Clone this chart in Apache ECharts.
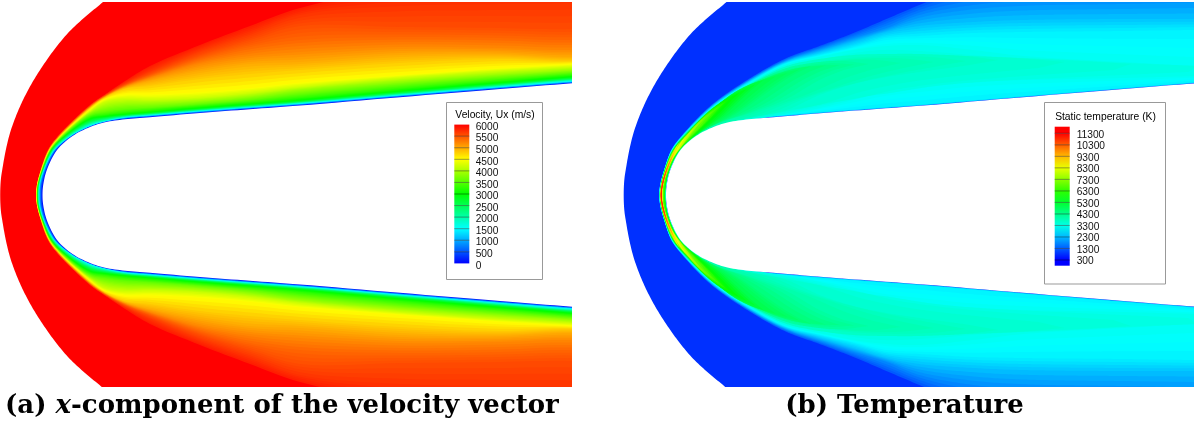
<!DOCTYPE html>
<html><head><meta charset="utf-8">
<script src="https://cdn.jsdelivr.net/npm/echarts@6/dist/echarts.min.js"></script>
<style>html,body{margin:0;padding:0;background:#fff}#c{width:1194px;height:423px}</style>
</head><body><div id="c"></div>
<script>
// Field outlines: y of the symmetry line = 195
const shockOutline=[[0.2,195],[0.8,180],[2.7,167],[5.8,150],[10,133],[16,116],[23,100],[32,83],[42,67],[54,50],[68,33],[85,17],[103,2],[125,-18],[640,-40]];
const cutY=[195,185,170,150,136];
const cutX=[90,105,125,150,200,250,300,400,500,572];
const bodyRow=[42.5,43.2,46.8,57,72.5,127,122.3,119.3,117.2,113,109.2,105.5,97.2,89,83.3];
// velocity iso-contours: x at each cutY, then y at each cutX
const u5850=[36,36.8,40.7,48,58,105,94.5,81,66,45,26,8,-12,-20,-25];
const u5700=[36.1,36.9,40.8,48.2,58.3,105.5,95,83,71,50,33,15,6,4,3];
const u5550=[36.15,36.95,40.9,48.4,58.6,106,95.5,84.5,74,55,40,26,27,28,29];
const u5400=[36.2,37,41,48.6,58.9,106.5,96,85.5,76,59,47,40,37,38,40];
const u5200=[36.3,37.1,41.1,48.8,59.3,107,96.5,86.5,78,64,56,52,47,48,50];
const u5000=[36.4,37.2,41.2,49,59.7,107.5,97,87.5,81,71,64,62,55,54,57];
const u4800=[36.5,37.3,41.3,49.2,60.1,108,97.5,89,86,79,74,70,63,59,61];
const u4500=[36.6,37.4,41.5,49.5,60.6,109.5,99,94.5,94.5,92,88,82.5,75,68,64];
const u4200=[36.8,37.6,41.7,49.8,61.3,111.5,102,99,99.5,97.5,93,87,78,71,67];
const u3900=[36.95,37.7,41.9,50.2,62,113,107,104,103.5,101,96.5,90,81.5,74.5,70];
const u3600=[37.1,37.9,42.2,50.6,62.8,115,111.5,109,107.5,104,99.7,94,85,77.5,72.5];
const u3300=[37.3,38.1,42.4,51,63.8,117,114.5,112,110,106,102,97.5,88.5,80.3,74.7];
const u3000=[37.5,38.3,42.7,51.5,65,119,116.5,114.3,112.2,108,104.2,100.2,91.2,82.7,76.8];
const u2500=[38,38.8,43.2,52.5,67,122,118.5,115.8,113.7,109.5,105.7,101.9,93.2,84.8,78.9];
const u2000=[38.6,39.3,43.6,53.5,69,124,120.2,116.7,114.6,110.4,106.6,102.8,94.3,85.9,80];
const u1500=[39.2,39.8,44,54.3,71,126,121.5,117.5,115.4,111.2,107.4,103.7,95.3,87,81.3];
const u1000=[39.9,40.4,44.7,55,71.7,126.5,121.9,118.2,116.1,111.9,108.1,104.4,96,87.8,82.1];
const u500=[41,41.5,45.7,56,72.2,126.8,122.1,118.8,116.7,112.5,108.7,105,96.7,88.5,82.8];
const velocityLevels=[5850,5700,5550,5400,5200,5000,4800,4500,4200,3900,3600,3300,3000,2500,2000,1500,1000,500,0];
const velocityRows=[u5850,u5700,u5550,u5400,u5200,u5000,u4800,u4500,u4200,u3900,u3600,u3300,u3000,u2500,u2000,u1500,u1000,u500,bodyRow];
// temperature iso-contours: each is a ribbon with an outer and an inner edge
const t1200o=[[35.6,195],[36.6,185],[40.6,170],[47.8,150],[58,136],[88,105],[130,76],[163,58],[196,46],[230,33],[263,19],[296,5],[330,-8],[420,-30],[640,-40]];
const t1200i=[[42.2,195],[42.9,185],[46.5,170],[56.7,150],[72.2,136],[90,126.6],[105,121.9],[125,118.9],[150,116.8],[200,112.6],[250,108.8],[300,105.1],[400,96.8],[500,88.6],[572,83],[640,78]];
const t1800o=[[35.7,195],[36.7,185],[40.7,170],[48,150],[58.4,136],[88.5,105.5],[130,77.5],[163,60],[196,49],[230,38],[263,28],[296,15],[350,5],[400,1],[500,-1],[572,-3],[640,-5]];
const t1800i=[[42.1,195],[42.8,185],[46.4,170],[56.6,150],[72,136],[90,126.5],[105,121.8],[125,118.8],[150,116.7],[200,112.5],[250,108.7],[300,105],[400,96.7],[500,88.5],[572,82.8],[640,78]];
const t2400o=[[35.8,195],[36.8,185],[40.8,170],[48.2,150],[58.8,136],[89,106],[130,78.5],[163,61.5],[196,52],[230,42],[263,32],[296,26],[350,22],[400,20],[500,19],[572,19],[640,19]];
const t2400i=[[42,195],[42.7,185],[46.3,170],[56.5,150],[71.8,136],[90,126.3],[105,121.5],[125,118.6],[150,116.4],[200,112.2],[250,108.4],[300,104.7],[400,96.4],[500,88.2],[572,82.5],[640,77]];
const t2900o=[[36,195],[37,185],[40.9,170],[48.4,150],[59.2,136],[89.5,106.5],[130,80],[163,63],[196,55],[230,47],[263,38],[296,36],[350,33],[400,32],[500,31],[572,30],[640,30]];
const t2900i=[[41.9,195],[42.6,185],[46.2,170],[56.4,150],[71.6,136],[90,126],[105,121.2],[125,118.2],[150,116],[200,111.8],[250,108],[300,104.3],[400,96],[500,87.8],[572,82.1],[640,77]];
const t3200o=[[36.1,195],[37.1,185],[41,170],[48.6,150],[59.5,136],[90,107],[130,81],[163,64.5],[196,57],[230,50],[263,46],[296,45],[350,50],[400,56],[500,62],[572,66],[640,68]];
const t3200i=[[41.8,195],[42.5,185],[46.1,170],[56.3,150],[71.4,136],[90,125.7],[105,120.9],[130,117.8],[163,114],[196,108],[230,100],[263,92],[296,88],[350,82],[400,80],[500,78],[572,76],[640,74]];
const t3600o=[[36.2,195],[37.2,185],[41.1,170],[48.8,150],[59.8,136],[90,107.5],[130,82],[163,66],[196,59],[230,55],[263,54],[296,54],[340,56],[375,60]];
const t3600i=[[41.7,195],[42.4,185],[46,170],[56.2,150],[71.2,136],[90,125.4],[105,120.5],[130,117],[163,110],[196,95],[230,84],[263,77],[296,72],[340,66]];
const t4000o=[[36.3,195],[37.3,185],[41.2,170],[49,150],[60.1,136],[90,108],[130,83],[163,68],[196,62],[220,61],[245,64]];
const t4000i=[[41.6,195],[42.3,185],[45.9,170],[56,150],[71,136],[90,125],[105,119.8],[130,112],[163,99],[196,80],[220,70]];
const t4500o=[[36.4,195],[37.4,185],[41.3,170],[49.2,150],[60.5,136],[90,108.5],[110,93],[130,84],[150,75],[170,69],[188,66]];
const t4500i=[[41.5,195],[42.2,185],[45.8,170],[55.8,150],[70.8,136],[90,124],[105,118],[122,108],[140,95],[160,81],[175,72]];
const t5000o=[[36.5,195],[37.5,185],[41.4,170],[49.4,150],[60.9,136],[90,109],[110,93],[125,85],[140,80]];
const t5000i=[[41.4,195],[42.1,185],[45.7,170],[55.6,150],[70.5,136],[85,126],[100,116],[115,102],[128,90]];
const t5800o=[[36.6,195],[37.6,185],[41.6,170],[49.7,150],[61.5,136],[78,118],[92,106],[108,97]];
const t5800i=[[41.3,195],[42,185],[45.6,170],[55.3,150],[70,136],[82,124],[94,112],[103,102]];
const t7000o=[[36.8,195],[37.8,185],[41.9,170],[50.2,150],[63,136],[72,125],[84,115]];
const t7000i=[[39.3,195],[40,185],[44.5,170],[53.3,150],[66.5,136],[74,126]];
const t8550o=[[37,195],[38,185],[42.3,170],[50.9,150],[56,142]];
const t8550i=[[38.7,195],[39.4,185],[43.8,170],[52.2,150]];
const t10000o=[[37.2,195],[38.2,185],[42.6,170],[45.5,163]];
const t10000i=[[38.3,195],[39,185],[43.2,170]];
const t11000o=[[37.4,195],[38.2,188],[39.5,179]];
const t11000i=[[38,195],[38.7,187]];
const temperatureLevels=[1200,1800,2400,2900,3200,3600,4000,4500,5000,5800,7000,8550,10000,11000];
const temperatureOuter=[t1200o,t1800o,t2400o,t2900o,t3200o,t3600o,t4000o,t4500o,t5000o,t5800o,t7000o,t8550o,t10000o,t11000o];
const temperatureInner=[t1200i,t1800i,t2400i,t2900i,t3200i,t3600i,t4000i,t4500i,t5000i,t5800i,t7000i,t8550i,t10000i,t11000i];
const freestreamU=6000, freestreamT=820;
// legends
const velocityTicks=[0,500,1000,1500,2000,2500,3000,3500,4000,4500,5000,5500,6000];
const temperatureTicks=[300,1300,2300,3300,4300,5300,6300,7300,8300,9300,10300,11300];
const temperatureBarEnds=[-196,11874];
const velocityTitle='Velocity, Ux (m/s)';
const temperatureTitle='Static temperature (K)';

const STOPS=[[0,[0,0,255]],[.25,[0,255,255]],[.5,[0,255,0]],[.75,[255,255,0]],[1,[255,0,0]]];
function cmap(v,lo,hi){
  let t=Math.max(0,Math.min(1,(v-lo)/(hi-lo)));
  for(let i=1;i<STOPS.length;i++){ if(t<=STOPS[i][0]){
    const a=STOPS[i-1],b=STOPS[i],f=(t-a[0])/(b[0]-a[0]);
    return 'rgb('+a[1].map((c,k)=>Math.round(c+(b[1][k]-c)*f)).join(',')+')';
  }}
  return 'rgb(255,0,0)';
}
const uCol=v=>cmap(v,0,6000), tCol=v=>cmap(v,300,11300);
const CY=195;
const mir=pts=>pts.map(p=>[p[0],2*CY-p[1]]);
function rowCurve(r){
  const a=cutY.map((y,i)=>[r[i],y]);
  const b=cutX.map((x,i)=>[x,r[i+cutY.length]]);
  const last=b[b.length-1];
  return a.concat(b,[[640,last[1]-5]]);
}
// centripetal Catmull-Rom drawing of a half outline; the ghost point mirrors across the symmetry line
function spline(pts,sub){
  const P=[[pts[1][0],2*CY-pts[1][1]]].concat(pts);
  const n=pts.length-1;P.push([2*pts[n][0]-pts[n-1][0],2*pts[n][1]-pts[n-1][1]]);
  const out=[pts[0].slice()];
  const tj=(a,b)=>Math.max(1e-3,Math.sqrt(Math.hypot(b[0]-a[0],b[1]-a[1])));
  const L=(a,b,t0,t1,t)=>[a[0]+(b[0]-a[0])*(t-t0)/(t1-t0),a[1]+(b[1]-a[1])*(t-t0)/(t1-t0)];
  for(let i=1;i<P.length-2;i++){
    const p0=P[i-1],p1=P[i],p2=P[i+1],p3=P[i+2];
    const t0=0,t1=t0+tj(p0,p1),t2=t1+tj(p1,p2),t3=t2+tj(p2,p3);
    for(let s=1;s<=sub;s++){
      const t=t1+(t2-t1)*s/sub;
      const A1=L(p0,p1,t0,t1,t),A2=L(p1,p2,t1,t2,t),A3=L(p2,p3,t2,t3,t);
      const B1=L(A1,A2,t0,t2,t),B2=L(A2,A3,t1,t3,t);
      out.push(L(B1,B2,t1,t2,t));
    }
  }
  return out;
}
function resample(c,N){
  const d=[0];for(let i=1;i<c.length;i++)d.push(d[i-1]+Math.hypot(c[i][0]-c[i-1][0],c[i][1]-c[i-1][1]));
  const tot=d[d.length-1],o=[];let j=0;
  for(let k=0;k<=N;k++){const s=tot*k/N;while(j<c.length-2&&d[j+1]<s)j++;
    const f=(s-d[j])/Math.max(1e-6,d[j+1]-d[j]);
    o.push([c[j][0]+(c[j+1][0]-c[j][0])*f,c[j][1]+(c[j+1][1]-c[j][1])*f]);}
  return o;
}
const lerpPts=(a,b,f)=>a.map((p,i)=>[p[0]+(b[i][0]-p[0])*f,p[1]+(b[i][1]-p[1])*f]);
function closed(curve){ return mir(curve.slice(1)).reverse().concat(curve); }
function ribbon(o,i){
  return mir(o.slice(1)).reverse().concat(o, i.slice(1).reverse(), [i[0]], mir(i.slice(1)));
}
const bodyPoly=closed(spline(rowCurve(bodyRow),8));
const shockPoly=closed(spline(shockOutline,10));

const TWEEN=4;
const layersA=[{p:shockPoly,c:uCol(freestreamU)}];
velocityRows.forEach((row,k)=>{
  if(k===velocityRows.length-1) return;
  const nxt=velocityRows[k+1];
  for(let j=0;j<TWEEN;j++){
    const f=j/TWEEN;
    const r=row.map((v,i)=>v+(nxt[i]-v)*f);
    const val=velocityLevels[k]+(velocityLevels[k+1]-velocityLevels[k])*(j+.5)/TWEEN;
    layersA.push({p:closed(spline(rowCurve(r),8)),c:uCol(val)});
  }
});
layersA.push({p:bodyPoly,c:'#fff'});

const N=260;
const denseO=temperatureOuter.map(c=>resample(spline(c,8),N));
const denseI=temperatureInner.map(c=>resample(spline(c,8),N));
const layersB=[{p:shockPoly,c:tCol(freestreamT)}];
temperatureLevels.forEach((L,k)=>{
  const last=k===temperatureLevels.length-1;
  const steps=last?1:TWEEN;
  const nxtL=last?11300:temperatureLevels[k+1];
  for(let j=0;j<steps;j++){
    const f=j/steps;
    const o=last?denseO[k]:lerpPts(denseO[k],denseO[k+1],f);
    const i=last?denseI[k]:lerpPts(denseI[k],denseI[k+1],f);
    layersB.push({p:ribbon(o,i),c:tCol(L+(nxtL-L)*(j+.5)/steps)});
  }
});
layersB.push({p:bodyPoly,c:'#fff'});

function fieldSeries(idx,layers){
  return {type:'custom',xAxisIndex:idx,yAxisIndex:idx,coordinateSystem:'cartesian2d',silent:true,clip:true,z:1,
    data:layers.map((l,i)=>[i]),encode:{x:[],y:[]},animation:false,
    renderItem(params,api){
      const l=layers[params.dataIndex];
      return {type:'polygon',shape:{points:l.p.map(q=>api.coord(q))},style:{fill:l.c}};
    }};
}
function legendSeries(idx,edges,col){
  const data=edges.slice(0,-1).map((v,i)=>[v,edges[i+1]]);
  return {type:'custom',xAxisIndex:idx,yAxisIndex:idx,coordinateSystem:'cartesian2d',silent:true,animation:false,z:5,
    data,encode:{x:[],y:[0,1]},
    renderItem(params,api){
      const v0=api.value(0),v1=api.value(1);
      const a=api.coord([0,v0]),b=api.coord([1,v1]);
      const fill=new echarts.graphic.LinearGradient(0,0,0,1,[{offset:0,color:col(v1)},{offset:1,color:col(v0)}]);
      const kids=[{type:'rect',shape:{x:a[0],y:b[1],width:b[0]-a[0],height:a[1]-b[1]},style:{fill}}];
      if(params.dataIndex>0) kids.push({type:'line',shape:{x1:a[0],y1:a[1],x2:b[0],y2:a[1]},style:{stroke:'rgba(0,0,0,.4)',lineWidth:1}});
      return {type:'group',children:kids};
    }};
}
const hiddenX=(i,min,max)=>({gridIndex:i,type:'value',min,max,show:false});
const hiddenY=(i)=>({gridIndex:i,type:'value',min:2,max:387,inverse:true,show:false});
const barY=(i,min,max)=>({gridIndex:i,type:'value',min,max,show:false});
const labelY=(i,min,max,ticks,margin)=>({gridIndex:i,type:'value',position:'right',min,max,z:10,
  axisLine:{show:false},axisTick:{show:false},splitLine:{show:false},
  axisLabel:{customValues:ticks,margin,fontFamily:'Liberation Sans',fontSize:10.2,color:'#111',
    formatter:v=>String(v),showMinLabel:true,showMaxLabel:true}});
const capFont={fontFamily:'DejaVu Serif',fontWeight:'bold',fontSize:26,color:'#000'};
const legendTitleFont={fontFamily:'Liberation Sans',fontSize:10.3,fontWeight:'normal',color:'#000'};
const option={
  animation:false,backgroundColor:'#fff',
  grid:[{left:0,top:2,width:572,height:385},{left:622,top:2,width:572,height:385},
        {left:454.3,top:124.6,width:15,height:138.8},{left:1054.7,top:126.7,width:15,height:139},
        {left:454.3,top:127.1,width:15,height:138.6},{left:1054.7,top:128.1,width:15,height:139}],
  xAxis:[hiddenX(0,0,572),hiddenX(1,-1.5,570.5),hiddenX(2,0,1),hiddenX(3,0,1),hiddenX(4,0,1),hiddenX(5,0,1)],
  yAxis:[hiddenY(0),hiddenY(1),barY(2,0,6000),barY(3,temperatureBarEnds[0],temperatureBarEnds[1]),
    labelY(4,0,6000,velocityTicks,6.4),labelY(5,temperatureBarEnds[0],temperatureBarEnds[1],temperatureTicks,7)],
  title:[
    {text:velocityTitle,left:495,top:110,textAlign:'center',padding:0,textStyle:legendTitleFont},
    {text:temperatureTitle,left:1105.5,top:112,textAlign:'center',padding:0,textStyle:legendTitleFont},
    {text:'{b|(a) }{i|x}{b|-component of the velocity vector}',left:5,top:393,padding:0,
      textStyle:{...capFont,rich:{b:{...capFont},i:{...capFont,fontStyle:'italic'}}}},
    {text:'(b) Temperature',left:904.5,top:393,textAlign:'center',padding:0,textStyle:capFont}
  ],
  graphic:[
    {type:'rect',z:3,silent:true,shape:{x:446.5,y:102.5,width:96,height:177},style:{fill:'#fff',stroke:'#999',lineWidth:1}},
    {type:'rect',z:3,silent:true,shape:{x:1044.5,y:102.5,width:121,height:181.5},style:{fill:'#fff',stroke:'#999',lineWidth:1}}
  ],
  series:[fieldSeries(0,layersA),fieldSeries(1,layersB),
    legendSeries(2,velocityTicks,uCol),
    legendSeries(3,[temperatureBarEnds[0]].concat(temperatureTicks,[temperatureBarEnds[1]]),tCol)]
};
echarts.init(document.getElementById('c'),null,{renderer:'canvas'}).setOption(option);
</script></body></html>
